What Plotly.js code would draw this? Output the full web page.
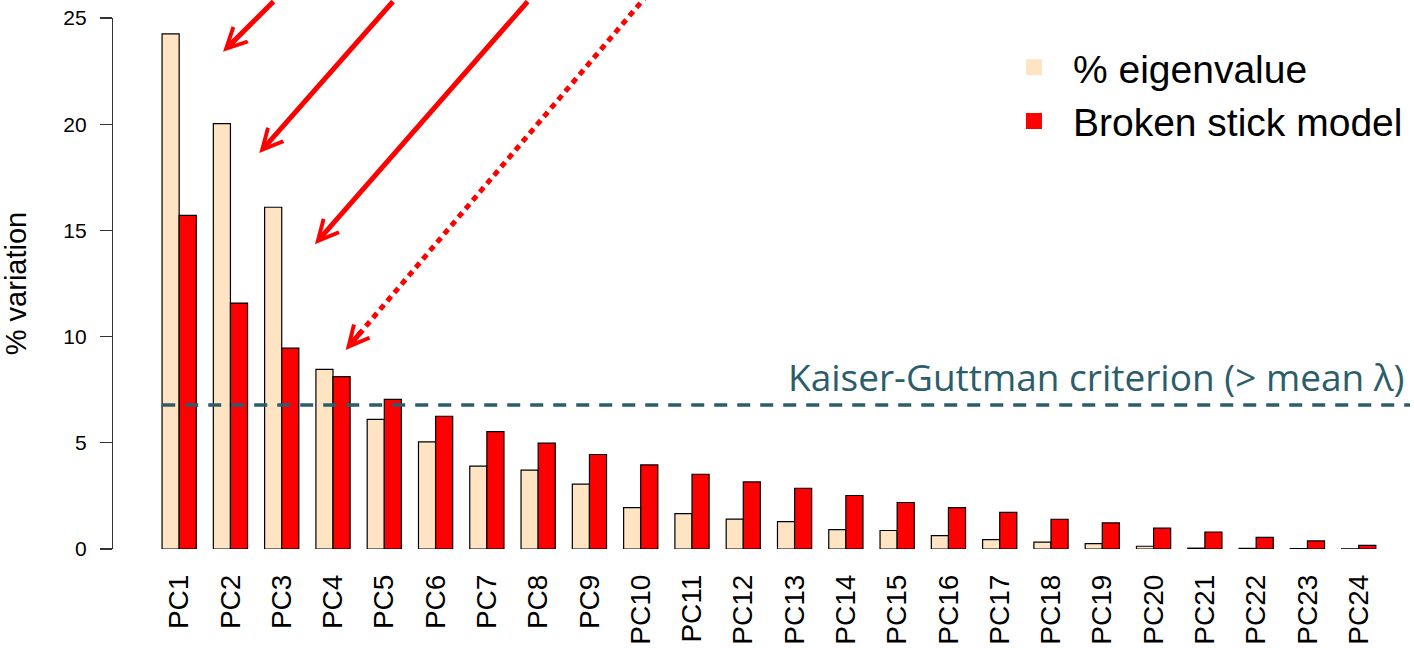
<!DOCTYPE html>
<html>
<head>
<meta charset="utf-8">
<script src="https://cdn.plot.ly/plotly-3.0.1.min.js"></script>
<style>html,body{margin:0;padding:0;background:#fff;}#chart{width:1414px;height:648px;}</style>
</head>
<body>
<div id="chart"></div>
<script>
// ---- data ----
const components = ['PC1','PC2','PC3','PC4','PC5','PC6','PC7','PC8','PC9','PC10','PC11','PC12',
                    'PC13','PC14','PC15','PC16','PC17','PC18','PC19','PC20','PC21','PC22','PC23','PC24'];
const eigenPct = [24.25, 20.03, 16.09, 8.46, 6.10, 5.04, 3.90, 3.71, 3.05, 1.95, 1.67, 1.41,
                  1.29, 0.91, 0.87, 0.63, 0.44, 0.32, 0.25, 0.13, 0.04, 0.03, 0.02, 0.01];
const brokenStick = [15.71, 11.58, 9.46, 8.12, 7.04, 6.25, 5.53, 4.98, 4.45, 3.96, 3.52, 3.16,
                     2.86, 2.52, 2.19, 1.95, 1.72, 1.40, 1.23, 0.98, 0.80, 0.55, 0.38, 0.17];
const seriesNames = ['% eigenvalue', 'Broken stick model'];
const seriesColors = ['#ffe4c4', '#ff0000'];
const yTicks = [0, 5, 10, 15, 20, 25];
const yTitle = '% variation';
const kaiserLevel = 6.78;
const kaiserLabel = 'Kaiser-Guttman criterion (> mean λ)';

// ---- styling ----
const RFONT = 'Liberation Sans, Arial, sans-serif';
const TEAL = '#2b5d6b';
const xIdx = components.map((_, i) => i);

const traces = [
  {type: 'bar', name: seriesNames[0], x: xIdx, y: eigenPct, legendgroup: 'a', showlegend: false,
   marker: {color: seriesColors[0], line: {color: '#000', width: 1.2}}, hoverinfo: 'skip'},
  {type: 'bar', name: seriesNames[1], x: xIdx, y: brokenStick, legendgroup: 'b', showlegend: false,
   marker: {color: seriesColors[1], line: {color: '#000', width: 1.2}}, hoverinfo: 'skip'},
  // legend keys (plain filled squares, as in the reference)
  {type: 'scatter', mode: 'markers', name: seriesNames[0], legendgroup: 'a', x: [null], y: [null],
   marker: {symbol: 'square', size: 16, color: seriesColors[0], line: {width: 0}}, hoverinfo: 'skip'},
  {type: 'scatter', mode: 'markers', name: seriesNames[1], legendgroup: 'b', x: [null], y: [null],
   marker: {symbol: 'square', size: 16, color: seriesColors[1], line: {width: 0}}, hoverinfo: 'skip'}
];

// arrows pointing at the first components (tip in data units, tail offset in px)
const arrowSpecs = [
  {x: 0.855, y: 23.41, ax: 52, ay: -57},
  {x: 1.562, y: 18.64, ax: 135, ay: -158},
  {x: 2.648, y: 14.35, ax: 214, ay: -250}
];
const annotations = arrowSpecs.map(a => ({
  x: a.x, y: a.y, xref: 'x', yref: 'y', ax: a.ax, ay: a.ay, text: '',
  showarrow: true, arrowhead: 5, arrowsize: 0.8, arrowwidth: 5, arrowcolor: '#ff0000'
}));
// head of dotted arrow
annotations.push({x: 3.247, y: 9.37, xref: 'x', yref: 'y', ax: 17, ay: -20, text: '',
  showarrow: true, arrowhead: 5, arrowsize: 0.8, arrowwidth: 5, arrowcolor: '#ff0000'});
annotations.push({x: 0.9977, y: 0.324, xref: 'paper', yref: 'paper', xanchor: 'right', yanchor: 'middle',
  text: kaiserLabel, showarrow: false, font: {family: 'Open Sans, sans-serif', size: 37, color: TEAL}});

const shapes = [
  {type: 'line', xref: 'x', yref: 'y', x0: -0.33, x1: 24.0, y0: kaiserLevel, y1: kaiserLevel,
   line: {color: TEAL, width: 3.5, dash: '13px,10px'}, layer: 'above'},
  {type: 'line', xref: 'paper', yref: 'paper', x0: 0.4121, y0: 1.044, x1: 0.1854, y1: 0.392,
   line: {color: '#ff0000', width: 5, dash: '6px,5px'}, layer: 'above'}
];

const layout = {
  width: 1414, height: 648,
  margin: {l: 113, r: 4, t: 18, b: 99, autoexpand: false},
  paper_bgcolor: '#fff', plot_bgcolor: '#fff',
  barmode: 'group', bargap: 0.333, bargroupgap: 0,
  font: {family: RFONT, color: '#000'},
  xaxis: {
    type: 'linear', range: [-1.29, 24.0], tickvals: xIdx, ticktext: components,
    tickangle: -90, tickfont: {family: RFONT, size: 28, color: '#000'},
    showline: false, showgrid: false, zeroline: false, ticks: '', ticklabelstandoff: 19,
    automargin: false, fixedrange: true
  },
  yaxis: {
    range: [0, 25], tickvals: yTicks, ticks: 'outside', ticklen: 12, tickwidth: 1.2, tickcolor: '#333',
    showline: true, linecolor: '#333', linewidth: 1.2, showgrid: false, zeroline: false,
    tickfont: {family: RFONT, size: 21, color: '#000'}, ticklabelstandoff: 9,
    title: {text: yTitle, font: {family: RFONT, size: 29, color: '#000'}, standoff: 28},
    automargin: false, fixedrange: true
  },
  showlegend: true,
  legend: {x: 0.680, y: 0.967, xanchor: 'left', yanchor: 'top', itemwidth: 68,
    font: {family: RFONT, size: 39, color: '#000'}, bgcolor: 'rgba(0,0,0,0)', borderwidth: 0,
    itemclick: false, itemdoubleclick: false, tracegroupgap: 0},
  shapes: shapes,
  annotations: annotations
};

Plotly.newPlot('chart', traces, layout, {displayModeBar: false, staticPlot: true});
</script>
</body>
</html>
